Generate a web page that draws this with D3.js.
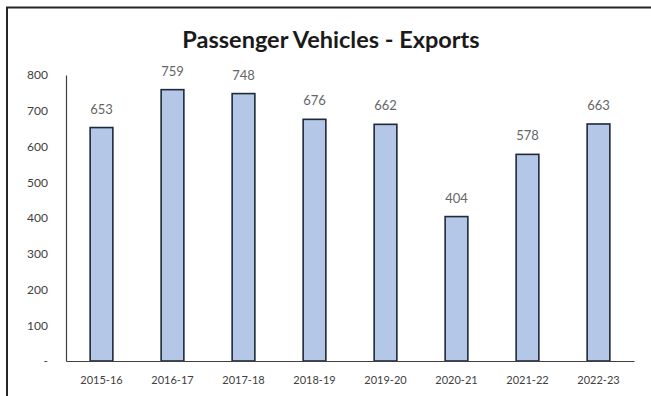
<!DOCTYPE html>
<html>
<head>
<meta charset="utf-8">
<script src="https://cdn.jsdelivr.net/npm/d3@7"></script>
<style>
  html, body { margin: 0; padding: 0; background: #fff; }
  svg { display: block; }
</style>
</head>
<body>
<svg id="chart" width="651" height="396"></svg>
<script>
// Passenger vehicle exports by fiscal year (thousand units)
const years = ["2015-16", "2016-17", "2017-18", "2018-19", "2019-20", "2020-21", "2021-22", "2022-23"];
const exportsK = [653, 759, 748, 676, 662, 404, 578, 663];
const yTicks = [0, 100, 200, 300, 400, 500, 600, 700, 800];
const chartTitle = "Passenger Vehicles - Exports";

const svg = d3.select("#chart");
const W = 651, H = 396;
const fontFam = "Lato, 'Open Sans', 'Liberation Sans', sans-serif";

// outer frame
svg.append("path")
  .attr("d", `M7,${H} L7,7.5 L${W},7.5`)
  .attr("fill", "none")
  .attr("stroke", "#262626")
  .attr("stroke-width", 2);

const plot = { left: 66, right: 634, top: 75, bottom: 361 };

const x = d3.scaleBand()
  .domain(years)
  .range([plot.left, plot.right])
  .paddingInner(0.68)
  .paddingOuter(0.34);

const y = d3.scaleLinear()
  .domain([0, 800])
  .range([plot.bottom, plot.top]);

// title
svg.append("text")
  .attr("x", 331)
  .attr("y", 48)
  .attr("text-anchor", "middle")
  .attr("font-family", fontFam)
  .attr("font-weight", "bold")
  .attr("font-size", 23.5)
  .attr("fill", "#1a1a1a")
  .text(chartTitle);

// y axis
const yAxis = d3.axisLeft(y)
  .tickValues(yTicks)
  .tickSize(0)
  .tickPadding(18)
  .tickFormat(d => d === 0 ? "-" : d3.format("d")(d));

const gy = svg.append("g")
  .attr("transform", `translate(${plot.left},0)`)
  .call(yAxis);
gy.select(".domain").attr("stroke", "#404040").attr("stroke-width", 1.2);
gy.selectAll("text")
  .attr("font-family", fontFam)
  .attr("font-size", 12)
  .attr("fill", "#404040");

// bars
svg.append("g")
  .selectAll("rect")
  .data(years)
  .join("rect")
  .attr("x", d => x(d))
  .attr("y", (d, i) => y(exportsK[i]))
  .attr("width", x.bandwidth())
  .attr("height", (d, i) => y(0) - y(exportsK[i]))
  .attr("fill", "#b4c7e7")
  .attr("stroke", "#1e2a3a")
  .attr("stroke-width", 1.6);

// x axis
const xAxis = d3.axisBottom(x).tickSize(0).tickPadding(15);
const gx = svg.append("g")
  .attr("transform", `translate(0,${plot.bottom})`)
  .call(xAxis);
gx.select(".domain").attr("stroke", "#404040").attr("stroke-width", 1.2);
gx.selectAll("text")
  .attr("font-family", fontFam)
  .attr("font-size", 11)
  .attr("fill", "#404040");

// value labels
svg.append("g")
  .selectAll("text")
  .data(years)
  .join("text")
  .attr("x", d => x(d) + x.bandwidth() / 2)
  .attr("y", (d, i) => y(exportsK[i]) - 14)
  .attr("text-anchor", "middle")
  .attr("font-family", fontFam)
  .attr("font-size", 13)
  .attr("fill", "#666666")
  .text((d, i) => exportsK[i]);
</script>
</body>
</html>
